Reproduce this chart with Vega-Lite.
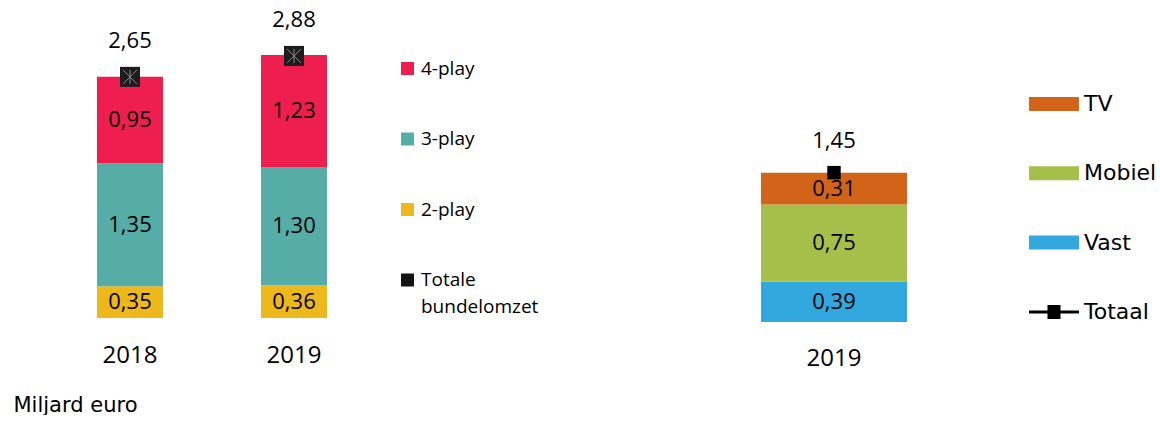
{
  "$schema": "https://vega.github.io/schema/vega-lite/v6.json",
  "autosize": {"type": "pad"},
  "padding": {"left": 13, "top": 0, "right": 0, "bottom": 0},
  "background": "white",
  "config": {
    "view": {"stroke": null},
    "locale": {"number": {"decimal": ",", "thousands": ".", "grouping": [3], "currency": ["€", ""]}},
    "axis": {"grid": false},
    "font": "Open Sans"
  },
  "bounds": "flush",
  "spacing": 308,
  "resolve": {
    "scale": {"x": "independent", "y": "independent", "fill": "independent"},
    "legend": {"fill": "independent"}
  },
  "hconcat": [
    {
      "width": 328,
      "height": 318,
      "layer": [
        {
          "data": {"values": [
            {"jaar": "2018", "type": "2-play", "v": 0.35, "k": 1},
            {"jaar": "2018", "type": "3-play", "v": 1.35, "k": 2},
            {"jaar": "2018", "type": "4-play", "v": 0.95, "k": 3},
            {"jaar": "2019", "type": "2-play", "v": 0.36, "k": 1},
            {"jaar": "2019", "type": "3-play", "v": 1.30, "k": 2},
            {"jaar": "2019", "type": "4-play", "v": 1.23, "k": 3}
          ]},
          "mark": {"type": "bar", "width": {"band": 0.4024}},
          "encoding": {
            "x": {
              "field": "jaar", "type": "nominal", "sort": ["2018", "2019"],
              "scale": {"paddingInner": 0, "paddingOuter": 0},
              "axis": {
                "title": "Miljard euro", "domain": false, "ticks": false, "labelAngle": 0,
                "labelFont": "Open Sans", "labelFontSize": 24, "labelColor": "#000", "labelPadding": 25,
                "titleFont": "DejaVu Sans", "titleFontSize": 21, "titleFontWeight": "normal", "titleColor": "#000",
                "titleX": -35, "titleY": 93, "titleAlign": "left", "titleBaseline": "alphabetic", "titleAnchor": "start"
              }
            },
            "y": {"field": "v", "type": "quantitative", "stack": "zero", "scale": {"domain": [0, 3.4945], "nice": false}, "axis": null},
            "fill": {
              "field": "type", "type": "nominal",
              "scale": {"domain": ["4-play", "3-play", "2-play", "Totale bundelomzet"], "range": ["#EE1F4E", "#56ACA6", "#EDB81B", "#151515"]},
              "legend": {
                "title": null, "orient": "none", "legendX": 350, "legendY": 59, "padding": 0,
                "symbolType": "square", "symbolSize": 169, "symbolStrokeWidth": 0,
                "labelFont": "Open Sans", "labelFontSize": 19, "labelColor": "#000", "labelOffset": 4, "labelLimit": 300,
                "rowPadding": 50.5,
                "labelExpr": "datum.label == 'Totale bundelomzet' ? ['Totale', 'bundelomzet'] : datum.label",
                "encode": {"labels": {"update": {"lineHeight": {"value": 27}}}}
              }
            },
            "order": {"field": "k", "type": "quantitative"}
          }
        },
        {
          "data": {"values": [
            {"jaar": "2018", "type": "2-play", "v": 0.35, "k": 1},
            {"jaar": "2018", "type": "3-play", "v": 1.35, "k": 2},
            {"jaar": "2018", "type": "4-play", "v": 0.95, "k": 3},
            {"jaar": "2019", "type": "2-play", "v": 0.36, "k": 1},
            {"jaar": "2019", "type": "3-play", "v": 1.30, "k": 2},
            {"jaar": "2019", "type": "4-play", "v": 1.23, "k": 3}
          ]},
          "transform": [
            {"stack": "v", "groupby": ["jaar"], "sort": [{"field": "k"}], "as": ["v0", "v1"]},
            {"calculate": "(datum.v0 + datum.v1) / 2", "as": "mid"}
          ],
          "mark": {"type": "text", "font": "Open Sans", "fontSize": 22, "color": "#000", "baseline": "middle"},
          "encoding": {
            "x": {"field": "jaar", "type": "nominal", "sort": ["2018", "2019"]},
            "y": {"field": "mid", "type": "quantitative", "scale": {"domain": [0, 3.4945], "nice": false}},
            "text": {"field": "v", "type": "quantitative", "format": ".2f"}
          }
        },
        {
          "data": {"values": [
            {"jaar": "2018", "tot": 2.65},
            {"jaar": "2019", "tot": 2.88}
          ]},
          "layer": [
            {
              "mark": {"type": "point", "shape": "square", "filled": true, "size": 400, "color": "#1c1c1c", "opacity": 1},
              "encoding": {
                "x": {"field": "jaar", "type": "nominal", "sort": ["2018", "2019"]},
                "y": {"field": "tot", "type": "quantitative", "scale": {"domain": [0, 3.4945], "nice": false}}
              }
            },
            {
              "mark": {"type": "point", "shape": "M-1,-1L1,1M1,-1L-1,1M0,-1L0,1", "filled": false, "size": 196, "stroke": "#8a8a8a", "strokeWidth": 1, "opacity": 1},
              "encoding": {
                "x": {"field": "jaar", "type": "nominal", "sort": ["2018", "2019"]},
                "y": {"field": "tot", "type": "quantitative", "scale": {"domain": [0, 3.4945], "nice": false}}
              }
            },
            {
              "mark": {"type": "text", "font": "Open Sans", "fontSize": 22, "color": "#000", "baseline": "middle", "dy": -36},
              "encoding": {
                "x": {"field": "jaar", "type": "nominal", "sort": ["2018", "2019"]},
                "y": {"field": "tot", "type": "quantitative", "scale": {"domain": [0, 3.4945], "nice": false}},
                "text": {"field": "tot", "type": "quantitative", "format": ".2f"}
              }
            }
          ]
        }
      ]
    },
    {
      "width": 300,
      "height": 322,
      "layer": [
        {
          "data": {"values": [
            {"jaar": "2019", "type": "Vast", "v": 0.39, "k": 1},
            {"jaar": "2019", "type": "Mobiel", "v": 0.75, "k": 2},
            {"jaar": "2019", "type": "TV", "v": 0.31, "k": 3}
          ]},
          "mark": {"type": "bar", "width": {"band": 0.4867}},
          "encoding": {
            "x": {
              "field": "jaar", "type": "nominal",
              "scale": {"paddingInner": 0, "paddingOuter": 0},
              "axis": {"title": null, "domain": false, "ticks": false, "labelAngle": 0,
                "labelFont": "Open Sans", "labelFontSize": 24, "labelColor": "#000", "labelPadding": 24.5}
            },
            "y": {"field": "v", "type": "quantitative", "stack": "zero", "scale": {"domain": [0, 3.126], "nice": false}, "axis": null},
            "fill": {
              "field": "type", "type": "nominal",
              "scale": {"domain": ["TV", "Mobiel", "Vast", "Totaal"], "range": ["#D26419", "#A4C04B", "#33A8DF", "#000000"]},
              "legend": {
                "title": null, "orient": "none", "legendX": 345, "legendY": 79, "padding": 0,
                "symbolType": "M-1,-0.28H1V0.28H-1Z", "symbolSize": 2500, "symbolStrokeWidth": 0,
                "labelFont": "DejaVu Sans", "labelFontSize": 22, "labelColor": "#000", "labelOffset": 5, "labelLimit": 300,
                "rowPadding": 33.3,
                "encode": {"symbols": {"update": {"shape": {"signal": "datum.value == 'Totaal' ? 'M-1,-0.06H1V0.06H-1Z M-0.26,-0.28H0.26V0.28H-0.26Z' : 'M-1,-0.28H1V0.28H-1Z'"}}}}
              }
            },
            "order": {"field": "k", "type": "quantitative"}
          }
        },
        {
          "data": {"values": [
            {"jaar": "2019", "type": "Vast", "v": 0.39, "k": 1},
            {"jaar": "2019", "type": "Mobiel", "v": 0.75, "k": 2},
            {"jaar": "2019", "type": "TV", "v": 0.31, "k": 3}
          ]},
          "transform": [
            {"stack": "v", "groupby": ["jaar"], "sort": [{"field": "k"}], "as": ["v0", "v1"]},
            {"calculate": "(datum.v0 + datum.v1) / 2", "as": "mid"}
          ],
          "mark": {"type": "text", "font": "Open Sans", "fontSize": 22, "color": "#000", "baseline": "middle"},
          "encoding": {
            "x": {"field": "jaar", "type": "nominal"},
            "y": {"field": "mid", "type": "quantitative", "scale": {"domain": [0, 3.126], "nice": false}},
            "text": {"field": "v", "type": "quantitative", "format": ".2f"}
          }
        },
        {
          "data": {"values": [
            {"jaar": "2019", "tot": 1.45}
          ]},
          "layer": [
            {
              "mark": {"type": "point", "shape": "square", "filled": true, "size": 180, "color": "#000", "opacity": 1},
              "encoding": {
                "x": {"field": "jaar", "type": "nominal"},
                "y": {"field": "tot", "type": "quantitative", "scale": {"domain": [0, 3.126], "nice": false}}
              }
            },
            {
              "mark": {"type": "text", "font": "Open Sans", "fontSize": 22, "color": "#000", "baseline": "middle", "dy": -32},
              "encoding": {
                "x": {"field": "jaar", "type": "nominal"},
                "y": {"field": "tot", "type": "quantitative", "scale": {"domain": [0, 3.126], "nice": false}},
                "text": {"field": "tot", "type": "quantitative", "format": ".2f"}
              }
            }
          ]
        }
      ]
    }
  ]
}
